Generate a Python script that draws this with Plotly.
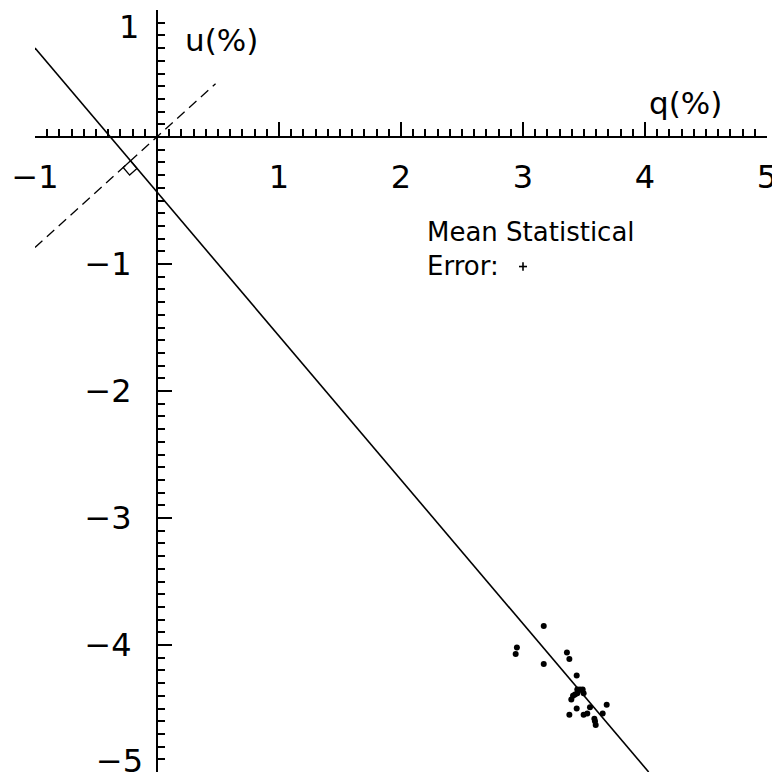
import numpy as np
import plotly.graph_objects as go

# polarization points q(%), u(%)
q_pts = [3.17, 2.95, 2.94, 3.17, 3.36, 3.38, 3.44, 3.445, 3.467, 3.489, 3.497,
         3.426, 3.41, 3.396, 3.44, 3.38, 3.549, 3.497, 3.527, 3.585, 3.59,
         3.596, 3.653, 3.686, 3.445]
u_pts = [-3.85, -4.02, -4.07, -4.15, -4.06, -4.11, -4.24, -4.35, -4.35, -4.35,
         -4.38, -4.39, -4.40, -4.43, -4.50, -4.55, -4.49, -4.55, -4.54, -4.58,
         -4.60, -4.63, -4.54, -4.47, -4.38]

# fitted line and perpendicular through origin
fit_q = [-1.0, 4.03]
fit_u = [0.70, -5.0]
perp_q = [-1.0, 0.48]
perp_u = [-0.87, 0.42]

# mean statistical error marker
err_q = [3.0]
err_u = [-1.02]
err_size = [0.033]

x_ticks = [-1, 1, 2, 3, 4, 5]
x_text = ["−1", "1", "2", "3", "4", "5"]
y_ticks = [1, -1, -2, -3, -4, -5]
y_text = ["", "−1", "−2", "−3", "−4", ""]

FONT = "DejaVu Sans"

fig = go.Figure()

fig.add_trace(go.Scatter(x=fit_q, y=fit_u, mode="lines",
                         line=dict(color="black", width=1.6), hoverinfo="skip"))
fig.add_trace(go.Scatter(x=perp_q, y=perp_u, mode="lines",
                         line=dict(color="black", width=1.3, dash="10px,6px"), hoverinfo="skip"))

# right-angle box at the intersection
m1 = (fit_u[1] - fit_u[0]) / (fit_q[1] - fit_q[0])
b1 = fit_u[0] - m1 * fit_q[0]
m2 = (perp_u[1] - perp_u[0]) / (perp_q[1] - perp_q[0])
b2 = perp_u[0] - m2 * perp_q[0]
px = (b2 - b1) / (m1 - m2)
py = m1 * px + b1
d1 = np.array([1.0, m1]) / np.hypot(1, m1)
d2 = -np.array([1.0, m2]) / np.hypot(1, m2)
s = 0.08
P = np.array([px, py])
corners = [P, P + s * d1, P + s * d1 + s * d2, P + s * d2, P]
fig.add_trace(go.Scatter(x=[c[0] for c in corners], y=[c[1] for c in corners],
                         mode="lines", line=dict(color="black", width=1.3), hoverinfo="skip"))

fig.add_trace(go.Scatter(x=q_pts, y=u_pts, mode="markers",
                         marker=dict(color="black", size=6), hoverinfo="skip"))

fig.add_trace(go.Scatter(x=err_q, y=err_u, mode="markers",
                         marker=dict(color="black", size=1),
                         error_x=dict(type="data", array=err_size, width=0, color="black", thickness=1.6),
                         error_y=dict(type="data", array=err_size, width=0, color="black", thickness=1.6),
                         hoverinfo="skip"))

tick_font = dict(family=FONT, size=32, color="black")
axis_common = dict(showgrid=False, zeroline=False, showline=True, linecolor="black", linewidth=2,
                   automargin=False, ticklabeloverflow="allow",
                   ticks="inside", ticklen=14, tickwidth=2, tickcolor="black",
                   minor=dict(dtick=0.1, tick0=0, ticks="inside", ticklen=7, tickwidth=1.6,
                              tickcolor="black", showgrid=False),
                   tickfont=tick_font)

# page body adds an 8px offset, so the figure is a bit smaller than the window
fig.update_layout(
    width=772, height=775,
    paper_bgcolor="white", plot_bgcolor="white",
    showlegend=False,
    margin=dict(l=27, r=13, t=2, b=11),
    xaxis=dict(range=[-1, 5], anchor="free", position=5 / 6, side="bottom",
               tickvals=x_ticks, ticktext=x_text, ticklabelstandoff=12, **axis_common),
    yaxis=dict(range=[-5, 1], anchor="free", position=1 / 6, side="left",
               tickvals=y_ticks, ticktext=y_text, ticklabelstandoff=18, **axis_common),
    annotations=[
        dict(text="1", x=0, y=1, xref="x", yref="y", showarrow=False, xshift=-16, yshift=4,
             xanchor="right", yanchor="top", font=tick_font),
        dict(text="−5", x=0, y=-5, xref="x", yref="y", showarrow=False, xshift=-12, yshift=-10,
             xanchor="right", yanchor="bottom", font=tick_font),
        dict(text="u(%)", x=0.21, y=0.76, xref="x", yref="y", showarrow=False,
             xanchor="left", yanchor="middle", font=dict(family=FONT, size=31, color="black")),
        dict(text="q(%)", x=4.65, y=0.27, xref="x", yref="y", showarrow=False,
             xanchor="right", yanchor="middle", font=dict(family=FONT, size=31, color="black")),
        dict(text="Mean Statistical<br>Error:", x=2.2, y=-0.88, xref="x", yref="y",
             showarrow=False, xanchor="left", yanchor="middle", align="left",
             font=dict(family=FONT, size=26, color="black")),
    ],
)

fig.write_html("out.html")
